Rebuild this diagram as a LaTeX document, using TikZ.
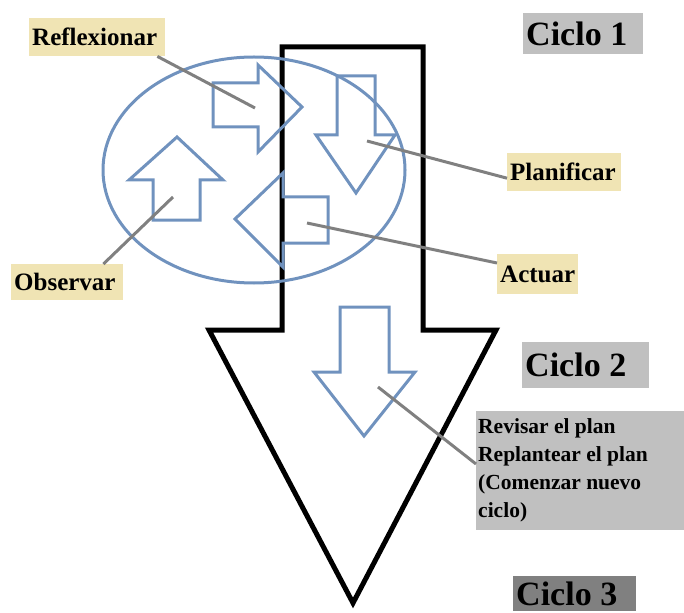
\documentclass[tikz,border=0pt]{standalone}
\usepackage{fontspec}
\setmainfont{Liberation Serif}
\usepackage{tikz}

\definecolor{cycblue}{RGB}{112,146,190}
\definecolor{tagbeige}{RGB}{240,228,180}
\definecolor{tagsilver}{RGB}{192,192,192}
\definecolor{tagdark}{RGB}{128,128,128}
\definecolor{linkgray}{RGB}{128,128,128}

\begin{document}
\begin{tikzpicture}[x=1pt, y=-1pt]
    \tikzset{
        cyc/.style={draw=cycblue, line width=3pt},
        tag/.style={anchor=north west, inner xsep=3pt, inner ysep=0pt,
            align=flush left, font=\bfseries\fontsize{25}{28}\selectfont},
        cycletag/.style={tag, fill=tagsilver, font=\bfseries\fontsize{34}{38}\selectfont},
        link/.style={draw=linkgray, line width=3pt}
    }
    \useasboundingbox (0, 0) rectangle (684, 612);

    % Draw the big arrow
    \draw[line width=5pt]
        (282, 47) -- (423, 47) -- (423, 330) -- (496, 330)
        -- (353, 603) -- (209, 330) -- (282, 330) -- cycle;

    % Draw the cycle
    \draw[cyc] (254, 170) ellipse (151 and 113);

    \draw[cyc] (213, 83) -- (258, 83) -- (258, 65) -- (302, 107)
        -- (258, 152) -- (258, 127) -- (213, 127) -- cycle;
    \draw[cyc] (337, 76) -- (375, 76) -- (375, 135) -- (395, 135)
        -- (356, 193) -- (316, 135) -- (337, 135) -- cycle;
    \draw[cyc] (328, 197) -- (328, 243) -- (283, 243) -- (283, 267)
        -- (235, 219) -- (283, 173) -- (283, 197) -- cycle;
    \draw[cyc] (153, 220) -- (153, 180) -- (129, 180) -- (177, 137)
        -- (223, 180) -- (200, 180) -- (200, 220) -- cycle;

    \draw[cyc] (340, 307) -- (389, 307) -- (389, 372) -- (415, 372)
        -- (364, 436) -- (314, 372) -- (340, 372) -- cycle;

    % Points the labels point at
    \coordinate (refl-in) at (255, 108);
    \coordinate (plan-in) at (367, 141);
    \coordinate (act-in) at (307, 223);
    \coordinate (obs-in) at (173, 197);
    \coordinate (rev-in) at (378, 387);

    % Labels
    \node[tag, fill=tagbeige, text width=130pt, minimum height=38pt]
        (refl) at (29, 18) {Reflexionar};
    \node[tag, fill=tagbeige, text width=106pt, minimum height=36pt]
        (obs) at (11, 264) {Observar};
    \node[tag, fill=tagbeige, text width=108pt, minimum height=38pt]
        (plan) at (507, 153) {Planificar};
    \node[tag, fill=tagbeige, text width=75pt, minimum height=40pt]
        (act) at (497, 254) {Actuar};

    \node[cycletag, text width=114pt, minimum height=41pt]
        (c1) at (523, 13) {Ciclo 1};
    \node[cycletag, text width=121pt, minimum height=46pt]
        (c2) at (522, 342) {Ciclo 2};
    \node[cycletag, fill=tagdark, text width=117pt, minimum height=35pt]
        (c3) at (513, 576) {Ciclo 3};

    \node[tag, fill=tagsilver, text width=204pt, minimum height=119pt,
        inner xsep=2pt, font=\bfseries\fontsize{21.5}{28}\selectfont]
        (rev) at (476, 411)
        {Revisar el plan\\Replantear el plan\\(Comenzar nuevo\\ciclo)};

    % Connectors
    \draw[link] ([xshift=-8pt]refl.south east) -- (refl-in);
    \draw[link] ([yshift=-6pt]plan.west) -- (plan-in);
    \draw[link] ([yshift=-9pt]act.north west) -- (act-in);
    \draw[link] ([xshift=-20pt]obs.north east) -- (obs-in);
    \draw[link] ([yshift=-53pt]rev.north west) -- (rev-in);
\end{tikzpicture}
\end{document}
